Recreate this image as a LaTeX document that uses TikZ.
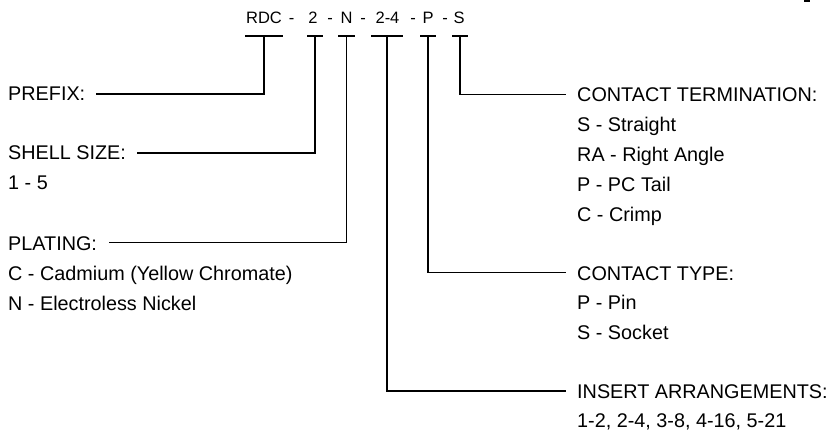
\documentclass[tikz,border=0pt]{standalone}
\usepackage{fontspec}
\setmainfont{Liberation Sans}
\begin{document}
\begin{tikzpicture}[x=1pt,y=-1pt,
  lbl/.style={anchor=base west,inner sep=0pt,font=\fontsize{19.8}{23}\selectfont},
  tok/.style={anchor=base,inner sep=0pt,font=\fontsize{16.5}{19}\selectfont},
  wire/.style={line width=1.9pt,line cap=rect,line join=miter}]
\useasboundingbox (0,0) rectangle (828,435);
\fill (804,0) rectangle (810,2.5);
% title tokens
\node[tok] (t1) at (264,24) {RDC};
\node[tok] (d1) at (291.7,24) {-};
\node[tok] (t2) at (313,24) {2};
\node[tok] (d2) at (330,24) {-};
\node[tok] (t3) at (346.5,24) {N};
\node[tok] (d3) at (363,24) {-};
\node[tok] (t4) at (387.5,24) {2-4};
\node[tok] (d4) at (413,24) {-};
\node[tok] (t5) at (428,24) {P};
\node[tok] (d5) at (445,24) {-};
\node[tok] (t6) at (459,24) {S};
% bar centres
\coordinate (b1) at (264,36);
\coordinate (b2) at (315,36);
\coordinate (b3) at (346.5,36);
\coordinate (b4) at (387,36);
\coordinate (b5) at (428,36);
\coordinate (b6) at (460,36);
\draw[wire] ([xshift=-18]b1) -- ([xshift=18]b1);
\draw[wire] ([xshift=-7.5]b2) -- ([xshift=7.5]b2);
\draw[wire] ([xshift=-8]b3) -- ([xshift=8]b3);
\draw[wire] ([xshift=-15]b4) -- ([xshift=15]b4);
\draw[wire] ([xshift=-7.5]b5) -- ([xshift=7.5]b5);
\draw[wire] ([xshift=-7.5]b6) -- ([xshift=7.5]b6);
% left labels
\node[lbl] (pf) at (8,101) {PREFIX:};
\node[lbl] (ss) at (8,160) {SHELL SIZE:};
\node[lbl] (ss1) at (8,190) {1 - 5};
\node[lbl] (pl) at (8,250.5) {PLATING:};
\node[lbl] (pl1) at (8,281) {C - Cadmium (Yellow Chromate)};
\node[lbl] (pl2) at (8,310.5) {N - Electroless Nickel};
% right labels
\node[lbl] (ct) at (577,101.5) {CONTACT TERMINATION:};
\node[lbl] (ct1) at (577,131.5) {S - Straight};
\node[lbl] (ct2) at (577,161.5) {RA - Right Angle};
\node[lbl] (ct3) at (577,191.5) {P - PC Tail};
\node[lbl] (ct4) at (577,221.5) {C - Crimp};
\node[lbl] (cy) at (577,280.5) {CONTACT TYPE:};
\node[lbl] (cy1) at (577,310) {P - Pin};
\node[lbl] (cy2) at (577,339.5) {S - Socket};
\node[lbl] (ia) at (577,398.5) {INSERT ARRANGEMENTS:};
\node[lbl] (ia1) at (577,427.5) {1-2, 2-4, 3-8, 4-16, 5-21};
% line ends
\coordinate (e1) at (96.5,94);
\coordinate (e2) at (138,153);
\coordinate (e3) at (110,242.5);
\coordinate (e4) at (565,391);
\coordinate (e5) at (565,272.5);
\coordinate (e6) at (565,94.5);
\draw[wire] (b1) |- (e1);
\draw[wire] (b2) |- (e2);
\draw[wire] (b3) |- (e3);
\draw[wire] (b4) |- (e4);
\draw[wire] (b5) |- (e5);
\draw[wire] (b6) |- (e6);
\end{tikzpicture}
\end{document}
